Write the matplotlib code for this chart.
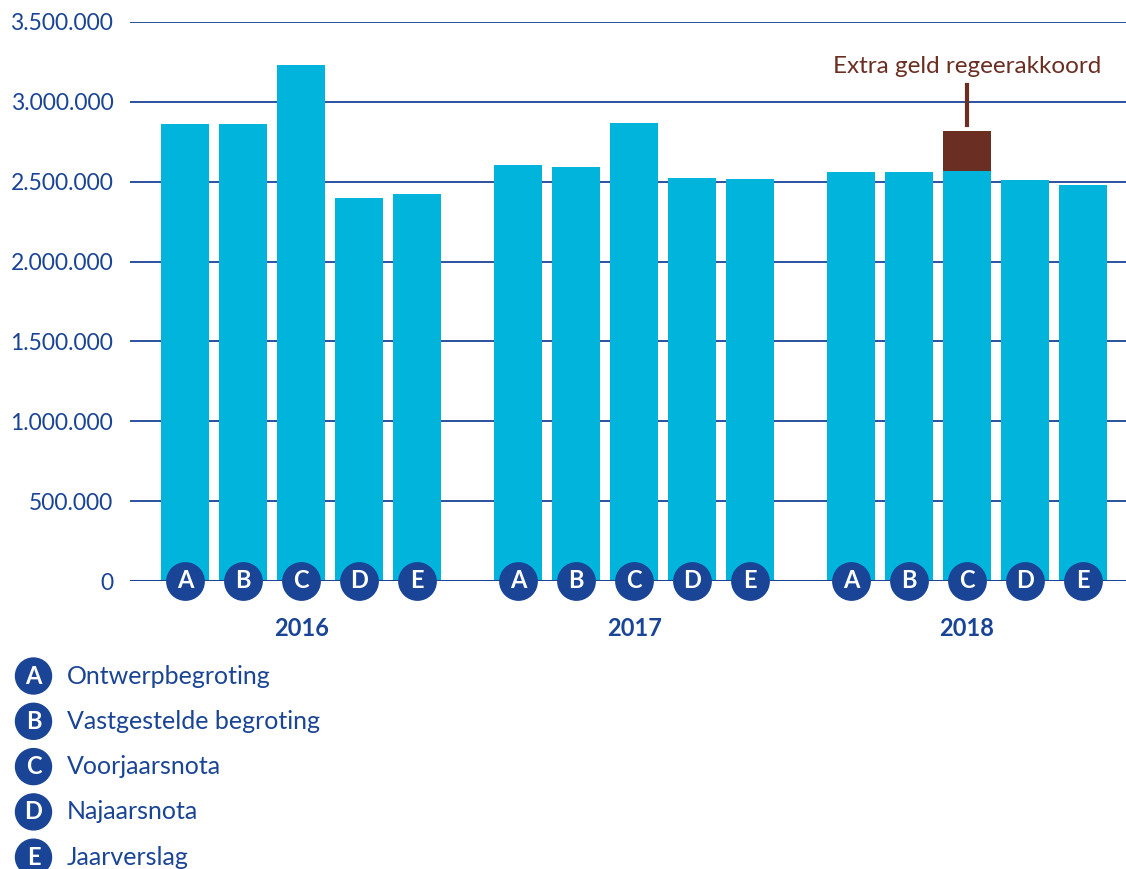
import matplotlib.pyplot as plt
from matplotlib.patches import Circle
from matplotlib.ticker import FuncFormatter
import numpy as np

years = ["2016", "2017", "2018"]
letters = ["A", "B", "C", "D", "E"]
legend_labels = [
    "Ontwerpbegroting",
    "Vastgestelde begroting",
    "Voorjaarsnota",
    "Najaarsnota",
    "Jaarverslag",
]
values = {
    "2016": [2861000, 2861000, 3231000, 2398000, 2423000],
    "2017": [2605000, 2592000, 2868000, 2523000, 2517000],
    "2018": [2561000, 2561000, 2567000, 2511000, 2479000],
}
extra_2018_c = 251000
extra_label = "Extra geld regeerakkoord"
y_ticks = [0, 500000, 1000000, 1500000, 2000000, 2500000, 3000000, 3500000]

BAR = "#00b4dc"
DARK = "#1a4495"
BROWN = "#6a2e22"

plt.rcParams["font.family"] = ["Lato", "DejaVu Sans"]

fig = plt.figure(figsize=(11.26, 8.69), dpi=100)
ax = fig.add_axes([130 / 1126, 288 / 869, 1 - 130 / 1126, 559 / 869])

group_step = 5.74
for g, year in enumerate(years):
    xs = np.arange(5) + g * group_step
    ax.bar(xs, values[year], width=0.83, color=BAR, zorder=2)
    ax.scatter(xs, np.zeros(5), s=780, color=DARK, zorder=4, clip_on=False,
               linewidths=0)
    for x, letter in zip(xs, letters):
        ax.text(x, 0, letter, color="white", fontsize=17, fontweight="bold",
                ha="center", va="center", zorder=5, clip_on=False)
    ax.text(xs[2], -295000, year, color=DARK, fontsize=17, fontweight="bold",
            ha="center", va="center")

# extra money on top of 2018 C
xc = 2 + 2 * group_step
ax.bar(xc, extra_2018_c, bottom=values["2018"][2], width=0.83, color=BROWN, zorder=3)
top = values["2018"][2] + extra_2018_c
ax.plot([xc, xc], [top + 35000, top + 290000], color=BROWN, lw=3, zorder=3)
ax.text(xc, top + 340000, extra_label, color=BROWN, fontsize=17.5,
        ha="center", va="bottom")

ax.set_xlim(-0.95, 16.22)
ax.set_ylim(0, 3500000)
ax.set_yticks(y_ticks)
ax.yaxis.set_major_formatter(
    FuncFormatter(lambda v, p: f"{int(v):,}".replace(",", ".")))
ax.tick_params(axis="y", length=0, pad=12, labelsize=16.5, labelcolor=DARK)
ax.set_xticks([])
ax.grid(axis="y", color=DARK, lw=1.3, zorder=1)
ax.axhline(0, color=DARK, lw=2.2, zorder=3)
ax.set_axisbelow(True)
for s in ax.spines.values():
    s.set_visible(False)

# legend
for i, (letter, label) in enumerate(zip(letters, legend_labels)):
    y_in = (869 - (676 + i * 45.3)) / 100
    fig.add_artist(Circle((0.335, y_in), 0.18, color=DARK,
                          transform=fig.dpi_scale_trans))
    fig.text(0.335, y_in, letter, color="white", fontsize=17, fontweight="bold",
             ha="center", va="center", transform=fig.dpi_scale_trans)
    fig.text(0.67, y_in, label, color=DARK, fontsize=18, ha="left", va="center",
             transform=fig.dpi_scale_trans)

fig.savefig("out.png", dpi=100)
